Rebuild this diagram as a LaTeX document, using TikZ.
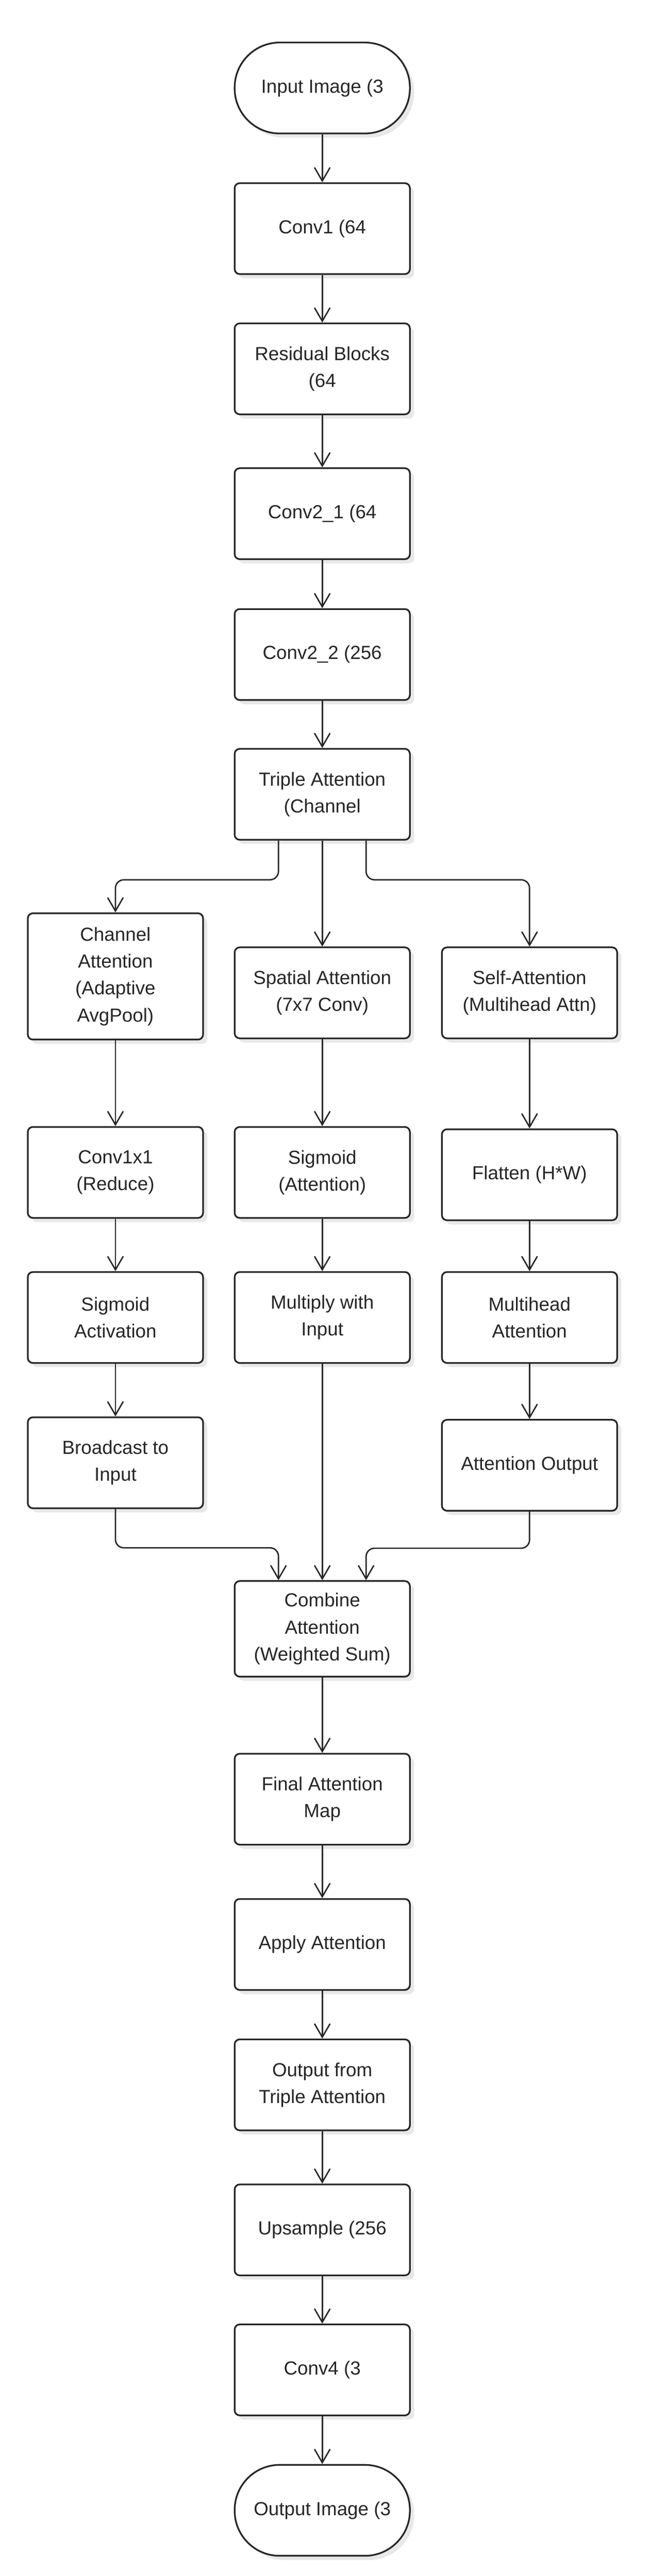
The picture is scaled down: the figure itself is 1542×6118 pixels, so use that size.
\documentclass[tikz,border=0pt]{standalone}
\usepackage{fontspec}
\setmainfont{Liberation Sans}
\usetikzlibrary{arrows.meta,shadows}

\definecolor{ink}{HTML}{262626}
\tikzstyle{box}=[rectangle,draw=ink,text=ink,line width=2pt,fill=white,rounded corners=6pt,minimum height=108pt,minimum width=208pt,inner sep=0pt,align=center,drop shadow={shadow xshift=5pt,shadow yshift=-5pt,fill=black!9,opacity=1}]
\tikzstyle{pill}=[box,rounded corners=53.5pt]

\begin{document}
\begin{tikzpicture}[x=0.5pt,y=-0.5pt,line width=1.65pt,draw=ink,font=\fontsize{22.5pt}{32pt}\selectfont,>={Straight Barb[length=16pt,width=18.5pt]}]
\useasboundingbox (0,0) rectangle (1542,6118);

% main trunk
\node[pill] (inp) at (765,209) {Input Image (3};
\node[box] (c1) at (765,543) {Conv1 (64};
\node[box] (rb) at (765,876) {Residual Blocks\\(64};
\node[box] (c21) at (765,1220) {Conv2\_1 (64};
\node[box] (c22) at (765,1554.5) {Conv2\_2 (256};
\node[box] (ta) at (765,1886.5) {Triple Attention\\(Channel};
\draw[->] (inp) -- (c1);
\draw[->] (c1) -- (rb);
\draw[->] (rb) -- (c21);
\draw[->] (c21) -- (c22);
\draw[->] (c22) -- (ta);

% channel branch
\node[box,minimum height=150pt] (ch1) at (274,2319) {Channel\\Attention\\(Adaptive\\AvgPool)};
\node[box] (ch2) at (274,2784.5) {Conv1x1\\(Reduce)};
\node[box] (ch3) at (274,3129) {Sigmoid\\Activation};
\node[box] (ch4) at (274,3474) {Broadcast to\\Input};

% spatial branch
\node[box] (sp1) at (765,2358) {Spatial Attention\\(7x7 Conv)};
\node[box] (sp2) at (765,2784.5) {Sigmoid\\(Attention)};
\node[box] (sp3) at (765,3129) {Multiply with\\Input};

% self-attention branch
\node[box] (sf1) at (1257,2358) {Self-Attention\\(Multihead Attn)};
\node[box] (sf2) at (1257,2790) {Flatten (H*W)};
\node[box] (sf3) at (1257,3129) {Multihead\\Attention};
\node[box] (sf4) at (1257,3480) {Attention Output};

\draw[->,rounded corners=10pt] ([xshift=-52pt] ta.south) -- ++(0,93) -| (ch1.north);
\draw[->] (ta) -- (sp1);
\draw[->,rounded corners=10pt] ([xshift=52pt] ta.south) -- ++(0,93) -| (sf1.north);
\draw[->] (ch1) -- (ch2);
\draw[->] (ch2) -- (ch3);
\draw[->] (ch3) -- (ch4);
\draw[->] (sp1) -- (sp2);
\draw[->] (sp2) -- (sp3);
\draw[->] (sf1) -- (sf2);
\draw[->] (sf2) -- (sf3);
\draw[->] (sf3) -- (sf4);

% merge and output
\node[box,minimum height=113.5pt] (cmb) at (765,3868.5) {Combine\\Attention\\(Weighted Sum)};
\node[box] (fam) at (765,4273) {Final Attention\\Map};
\node[box] (app) at (765,4618) {Apply Attention};
\node[box] (out) at (765,4951.5) {Output from\\Triple Attention};
\node[box] (up) at (765,5296) {Upsample (256};
\node[box] (c4) at (765,5628.5) {Conv4 (3};
\node[pill] (oimg) at (765,5962) {Output Image (3};
\draw[->,rounded corners=10pt] (ch4.south) -- ++(0,92) -| ([xshift=-52pt] cmb.north);
\draw[->] (sp3) -- (cmb);
\draw[->,rounded corners=10pt] (sf4.south) -- ++(0,87) -| ([xshift=52pt] cmb.north);
\draw[->] (cmb) -- (fam);
\draw[->] (fam) -- (app);
\draw[->] (app) -- (out);
\draw[->] (out) -- (up);
\draw[->] (up) -- (c4);
\draw[->] (c4) -- (oimg);
\end{tikzpicture}
\end{document}
